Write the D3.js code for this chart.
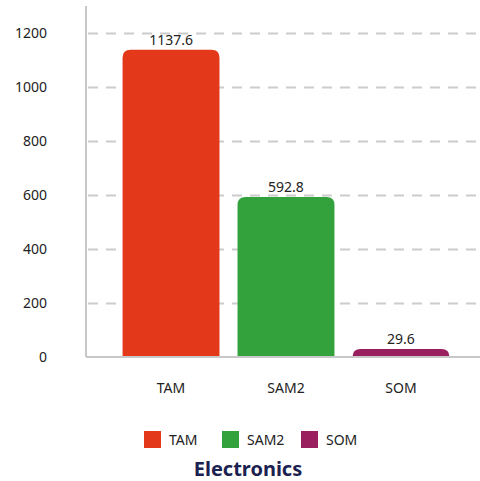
<!DOCTYPE html>
<html>
<head>
<meta charset="utf-8">
<script src="https://cdn.jsdelivr.net/npm/d3@7"></script>
<style>
  body { margin: 0; background: #fff; }
  svg { display: block; font-family: "Noto Sans", sans-serif; }
</style>
</head>
<body>
<div id="chart"></div>
<script>
const categories = ["TAM", "SAM2", "SOM"];
const values = [1137.6, 592.8, 29.6];
const colors = ["#e4381b", "#33a23d", "#9a1f5f"];
const yTicks = [0, 200, 400, 600, 800, 1000, 1200];
const title = "Electronics";

const width = 480, height = 481;
const axisX = 86, baseY = 357;

const svg = d3.select("#chart").append("svg")
    .attr("width", width)
    .attr("height", height);

const x = d3.scaleBand()
    .domain(categories)
    .range([axisX, 486])
    .paddingInner(0.157)
    .paddingOuter(0.318);

const y = d3.scaleLinear()
    .domain([0, 1300])
    .range([baseY, 6]);

// grid lines, dashed
svg.append("g").selectAll("line")
    .data(yTicks.filter(d => d > 0))
    .enter().append("line")
    .attr("x1", axisX + 2).attr("x2", width)
    .attr("y1", d => Math.round(y(d)) + 0.5)
    .attr("y2", d => Math.round(y(d)) + 0.5)
    .attr("stroke", "#cccccc")
    .attr("stroke-width", 2)
    .attr("stroke-dasharray", "10,8");

// y tick labels
svg.append("g").selectAll("text")
    .data(yTicks)
    .enter().append("text")
    .attr("x", 47)
    .attr("y", d => y(d) + 5)
    .attr("text-anchor", "end")
    .attr("font-size", 14)
    .attr("fill", "#222")
    .text(d => d);

// bars with rounded tops
const r = 8;
function barPath(d, i) {
    const x0 = x(categories[i]), w = x.bandwidth();
    const y0 = y(d), y1 = y(0);
    const rr = Math.min(r, (y1 - y0));
    return "M" + x0 + "," + y1 +
        "V" + (y0 + rr) +
        "Q" + x0 + "," + y0 + " " + (x0 + rr) + "," + y0 +
        "H" + (x0 + w - rr) +
        "Q" + (x0 + w) + "," + y0 + " " + (x0 + w) + "," + (y0 + rr) +
        "V" + y1 + "Z";
}
svg.append("g").selectAll("path")
    .data(values)
    .enter().append("path")
    .attr("d", barPath)
    .attr("fill", (d, i) => colors[i]);

// value labels
svg.append("g").selectAll("text")
    .data(values)
    .enter().append("text")
    .attr("x", (d, i) => x(categories[i]) + x.bandwidth() / 2)
    .attr("y", d => y(d) - 5)
    .attr("text-anchor", "middle")
    .attr("font-size", 14)
    .attr("fill", "#222")
    .text(d => d);

// axes lines
svg.append("line")
    .attr("x1", axisX).attr("x2", axisX)
    .attr("y1", 6).attr("y2", baseY)
    .attr("stroke", "#c8c8c8").attr("stroke-width", 2);
svg.append("line")
    .attr("x1", axisX).attr("x2", width)
    .attr("y1", baseY).attr("y2", baseY)
    .attr("stroke", "#c8c8c8").attr("stroke-width", 2);

// x labels
svg.append("g").selectAll("text")
    .data(categories)
    .enter().append("text")
    .attr("x", d => x(d) + x.bandwidth() / 2)
    .attr("y", 393)
    .attr("text-anchor", "middle")
    .attr("font-size", 14)
    .attr("fill", "#222")
    .text(d => d);

// legend
const legendX = [144, 222, 301];
const leg = svg.append("g").selectAll("g")
    .data(categories)
    .enter().append("g")
    .attr("transform", (d, i) => "translate(" + legendX[i] + ",431)");
leg.append("rect")
    .attr("width", 17).attr("height", 17)
    .attr("fill", (d, i) => colors[i]);
leg.append("text")
    .attr("x", 25).attr("y", 14)
    .attr("font-size", 14)
    .attr("fill", "#222")
    .text(d => d);

// title
svg.append("text")
    .attr("x", 248).attr("y", 476)
    .attr("text-anchor", "middle")
    .attr("font-size", 20)
    .attr("font-weight", "bold")
    .attr("fill", "#1b2150")
    .text(title);
</script>
</body>
</html>
